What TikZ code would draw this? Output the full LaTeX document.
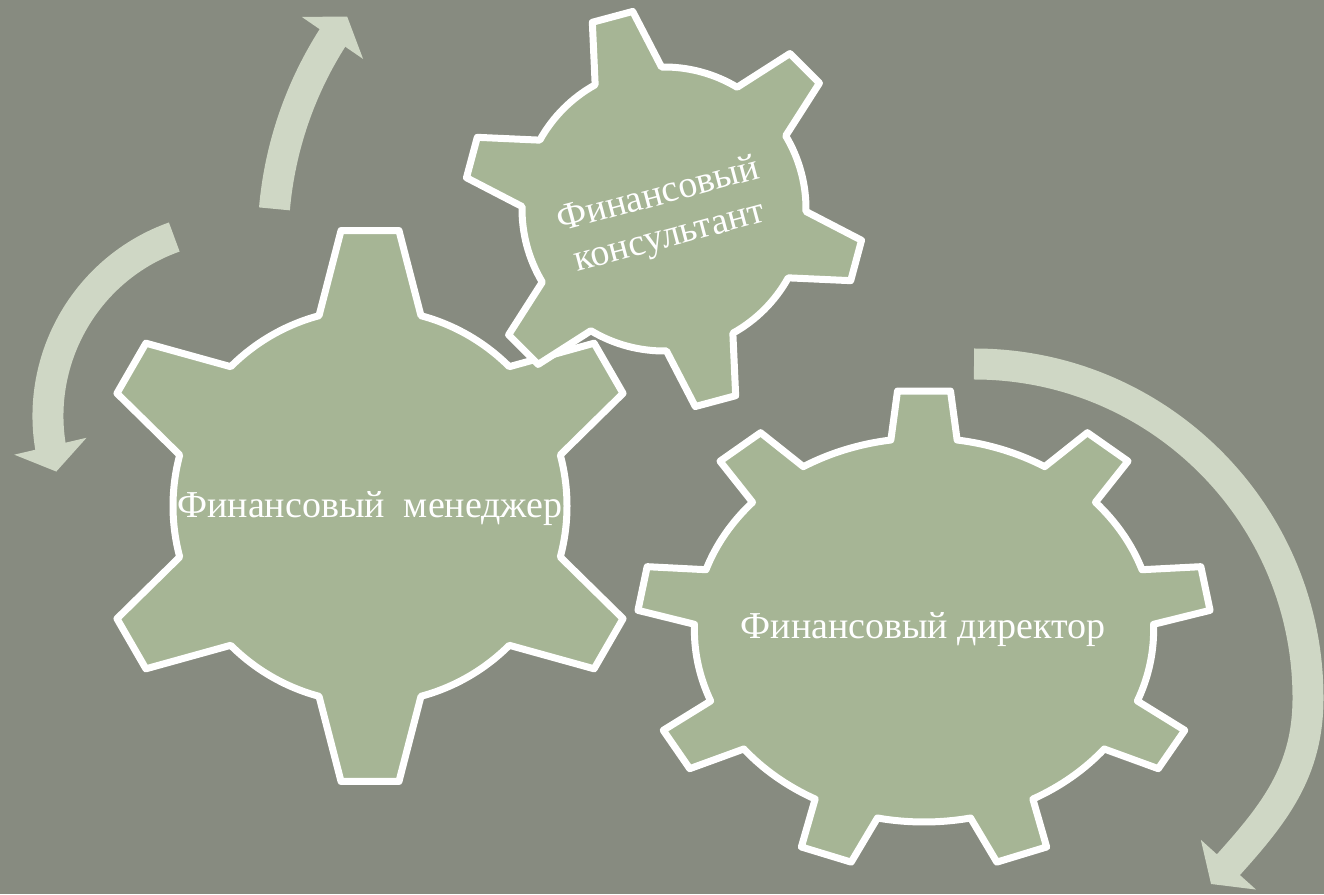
\documentclass[tikz,border=0pt]{standalone}
\usepackage{fontspec}
\setmainfont{Liberation Serif}
\usepackage{tikz}
\usetikzlibrary{arrows.meta, bending, positioning}

\definecolor{bgcolor}{HTML}{878B80}
\definecolor{gearfill}{HTML}{A6B595}
\definecolor{arrowfill}{HTML}{CFD7C5}

% #1 teeth, #2 first tooth angle, #3 body radius, #4 tip radius, #5 half angle at body, #6 half angle at tip
\newcommand{\gearoutline}[6]{%
  \pgfmathsetmacro{\gearstep}{360/#1}
  \draw[gear] (#2-#5:#3)
    \foreach \k in {1,...,#1}{
      -- ({#2+(\k-1)*\gearstep-#6}:#4) -- ({#2+(\k-1)*\gearstep+#6}:#4)
      -- ({#2+(\k-1)*\gearstep+#5}:#3)
      arc[start angle={#2+(\k-1)*\gearstep+#5}, end angle={#2+\k*\gearstep-#5}, radius=#3]
    } -- cycle;
}

\begin{document}
\begin{tikzpicture}[x=1pt, y=1pt,
    gear/.style={fill=gearfill, draw=white, line width=7pt, line join=round},
    roundarrow/.style={draw=arrowfill, line width=31pt, -{Triangle[width=73pt, length=26pt]}},
    gearname/.style={text=white, font=\fontsize{38}{43}\selectfont, align=center}]
      \useasboundingbox (0,0) rectangle (1324,894);
      \fill[bgcolor] (0,0) rectangle (1324,894);
      \coordinate (manager gear) at (370,388);
      \coordinate (consultant gear) at (664,685);
      \coordinate (director gear) at (924,264);
      \coordinate (upper turn) at (653,652);
      \coordinate (left turn) at (238,478);
      \coordinate (right turn) at (974,196);

      \draw[roundarrow] ([shift={(175:380)}]upper turn) arc[start angle=175, end angle=143.6, radius=380];
      \draw[roundarrow] ([shift={(109.6:190)}]left turn) arc[start angle=109.6, end angle=197, radius=190];
      \draw[roundarrow] ([shift={(90:334)}]right turn) arc[start angle=90, end angle=0, radius=334]
        to[out=-90, in=48] (1211,10);

      \begin{scope}[shift={(manager gear)}]
        \gearoutline{6}{30}{197}{277}{15}{6}
      \end{scope}
      \begin{scope}[shift={(consultant gear)}]
        \gearoutline{6}{45}{142}{200}{14}{6}
      \end{scope}
      \begin{scope}[shift={(director gear)}, xscale=1.196]
        \gearoutline{9}{90}{192}{240}{8.3}{5.3}
      \end{scope}

      \node[gearname] (manager) at (370,385) {Финансовый\ \ менеджер};
      \node[gearname, rotate=15] (consultant) at (664,677) {Финансовый\\консультант};
      \node[gearname] (director) at (923,264) {Финансовый директор};
    \end{tikzpicture}
\end{document}
